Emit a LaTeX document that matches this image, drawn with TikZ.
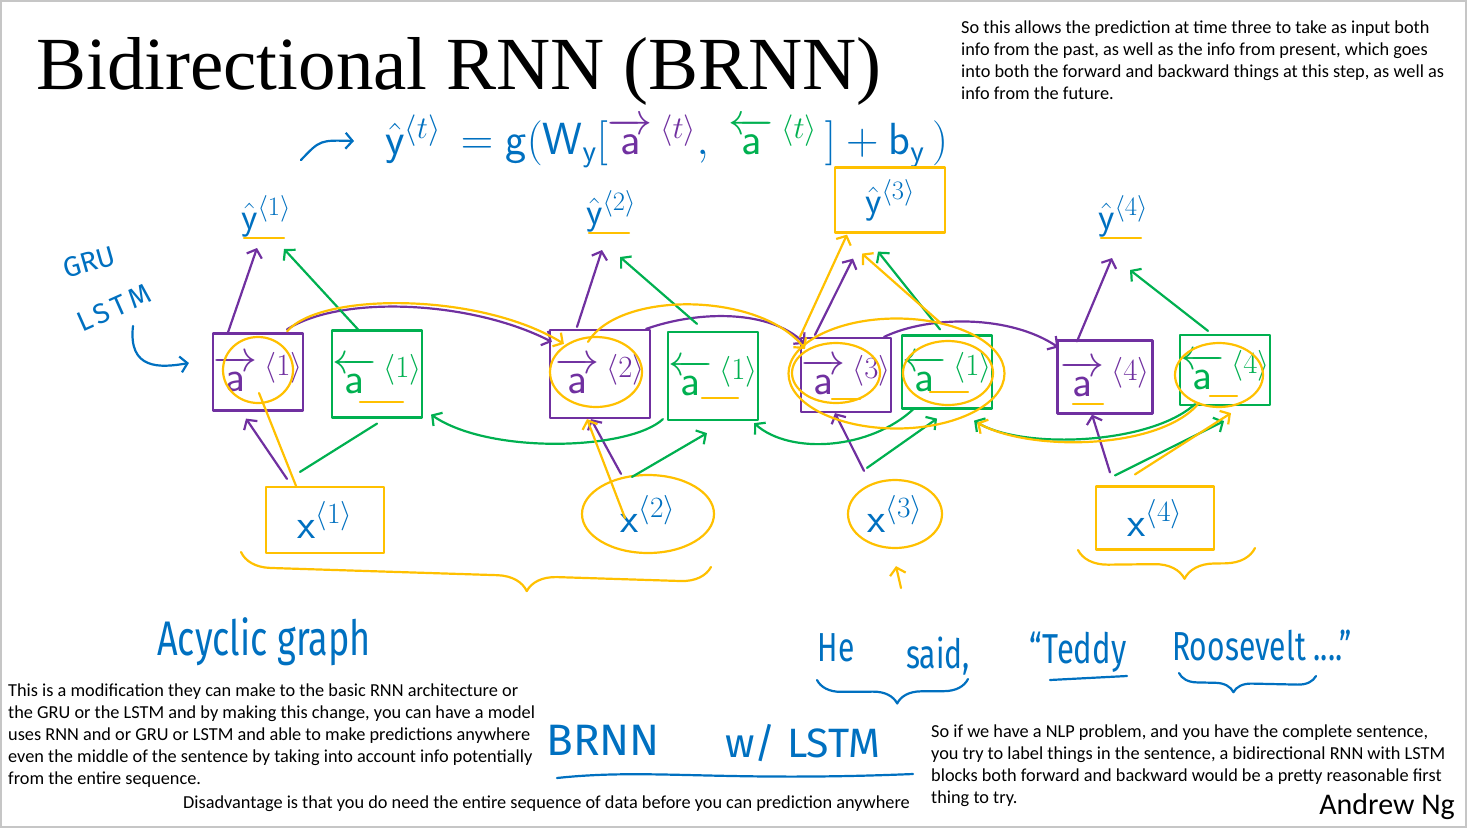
\documentclass[tikz,border=0pt]{standalone}
\usepackage{fix-cm}
\usepackage{fontspec}
\usepackage{amsmath}
\usepackage{graphicx}
\usepackage{tikz}
\usetikzlibrary{arrows.meta,positioning,shapes.geometric,calc,decorations.pathreplacing}
\newfontfamily\titlefont{Liberation Serif}
\newfontfamily\notefont{Carlito}
\newfontfamily\hand{Fira Sans}
\definecolor{inkBlue}{HTML}{0070C0}
\definecolor{fwdPurple}{HTML}{7030A0}
\definecolor{bwdGreen}{HTML}{00B050}
\definecolor{hlGold}{HTML}{FFC000}
\newcommand{\tall}[1]{\scalebox{1}[1.35]{#1}}
\newcommand{\fwda}[1]{\overrightarrow{\mathsf{a}}\,{}^{\langle #1\rangle}}
\newcommand{\bwda}[1]{\overleftarrow{\mathsf{a}}\,{}^{\langle #1\rangle}}
\tikzset{>={Straight Barb[length=7pt,width=16pt]}}
\tikzset{
  pen/.style={line width=2.2pt,line cap=round,line join=round},
  fwd/.style={pen,draw=fwdPurple},
  bwd/.style={pen,draw=bwdGreen},
  hl/.style={pen,draw=hlGold},
  ink/.style={pen,draw=inkBlue},
  fcell/.style={fwd,text=fwdPurple,inner sep=0pt,font=\fontsize{44}{44}\selectfont},
  bcell/.style={bwd,text=bwdGreen,inner sep=0pt,font=\fontsize{44}{44}\selectfont},
  yhat/.style={text=inkBlue,inner sep=1pt,anchor=south,font=\fontsize{38}{38}\selectfont},
  xin/.style={hl,text=inkBlue,inner sep=0pt,font=\fontsize{42}{42}\selectfont},
  scrawl/.style={text=inkBlue,inner sep=0pt,font=\hand\fontsize{30}{30}\selectfont},
  note/.style={anchor=north west,align=left,inner sep=0pt,font=\notefont\fontsize{18.3}{22}\selectfont},
  curly/.style={decorate,decoration={brace,mirror,amplitude=#1}}
}

\begin{document}
\begin{tikzpicture}[x=1pt,y=-1pt]
  \useasboundingbox (0,0) rectangle (1468,828);
  \draw[gray!45,line width=1.5pt] (1,1) rectangle (1466,827);

  \node[anchor=base west,inner sep=0pt,text depth=0pt,font=\titlefont\fontsize{75}{75}\selectfont] (title) at (36,89) {Bidirectional RNN (BRNN)};
  \node[note] (future) at (961,21) {So this allows the prediction at time three to take as input both\\
    info from the past, as well as the info from present, which goes\\
    into both the forward and backward things at this step, as well as\\
    info from the future.};
  \node[note] (modnote) at (8,684) {This is a modification they can make to the basic RNN architecture or\\
    the GRU or the LSTM and by making this change, you can have a model\\
    uses RNN and or GRU or LSTM and able to make predictions anywhere\\
    even the middle of the sentence by taking into account info potentially\\
    from the entire sequence.};
  \node[note] (disadv) at (183,796) {Disadvantage is that you do need the entire sequence of data before you can prediction anywhere};
  \node[note] (nlpnote) at (931,725) {So if we have a NLP problem, and you have the complete sentence,\\
    you try to label things in the sentence, a bidirectional RNN with LSTM\\
    blocks both forward and backward would be a pretty reasonable first\\
    thing to try.};
  \node[anchor=base east,inner sep=0pt,font=\notefont\fontsize{30}{30}\selectfont] (author) at (1455,814) {Andrew Ng};

  \node[anchor=west,text=inkBlue,inner sep=0pt,font=\fontsize{45}{45}\selectfont] (eq) at (385,141)
    {$\hat{\mathsf{y}}^{\langle t\rangle}\,=\mathsf{g}(\mathsf{W}_{\mathsf{y}}[\textcolor{fwdPurple}{\fwda{t}},\;\textcolor{bwdGreen}{\bwda{t}}\,]+\mathsf{b}_{\mathsf{y}}\,)$};

  \node[fcell,minimum width=89pt,minimum height=77pt] (fa1) at (258,372) {$\fwda{1}$};
  \node[bcell,minimum width=87pt,minimum height=87pt] (ba1) at (377,374) {$\bwda{1}$};
  \node[fcell,minimum width=100pt,minimum height=88pt] (fa2) at (600,374) {$\fwda{2}$};
  \node[bcell,minimum width=81pt,minimum height=88pt] (ba2) at (713,376) {$\bwda{1}$};
  \node[fcell,minimum width=85pt,minimum height=74pt] (fa3) at (846,375) {$\fwda{3}$};
  \node[bcell,minimum width=87pt,minimum height=73pt] (ba3) at (947,372) {$\bwda{1}$};
  \node[fcell,minimum width=95pt,minimum height=73pt] (fa4) at (1105,377) {$\fwda{4}$};
  \node[bcell,minimum width=84pt,minimum height=70pt] (ba4) at (1225,370) {$\bwda{4}$};

  \node[yhat] (y1) at (266,238) {$\hat{\mathsf{y}}^{\langle 1\rangle}$};
  \node[yhat] (y2) at (611,233) {$\hat{\mathsf{y}}^{\langle 2\rangle}$};
  \node[yhat,hl,anchor=center,minimum width=110pt,minimum height=65pt] (y3) at (890,200) {$\hat{\mathsf{y}}^{\langle 3\rangle}$};
  \node[yhat] (y4) at (1123,238) {$\hat{\mathsf{y}}^{\langle 4\rangle}$};

  \node[xin,minimum width=118pt,minimum height=66pt] (x1) at (325,520) {$\mathsf{x}^{\langle 1\rangle}$};
  \node[xin,ellipse,minimum width=132pt,minimum height=78pt] (x2) at (648,514) {$\mathsf{x}^{\langle 2\rangle}$};
  \node[xin,ellipse,minimum width=94pt,minimum height=68pt] (x3) at (895,514) {$\mathsf{x}^{\langle 3\rangle}$};
  \node[xin,minimum width=118pt,minimum height=63pt] (x4) at (1155,518) {$\mathsf{x}^{\langle 4\rangle}$};

  \node[scrawl,rotate=16,font=\hand\fontsize{28}{28}\selectfont] (gru) at (89,262) {GRU};
  \node[scrawl,rotate=24,font=\hand\fontsize{28}{28}\selectfont] (lstm) at (114,308) {L\kern4pt S\kern4pt T\kern4pt M};
  \node[scrawl,font=\hand\fontsize{36}{36}\selectfont] (acyclic) at (264,642) {\tall{Acyclic graph}};
  \node[scrawl] (he) at (836,648) {\tall{He}};
  \node[scrawl] (said) at (938,656) {\tall{said,}};
  \node[scrawl,font=\hand\fontsize{31}{31}\selectfont] (teddy) at (1078,652) {\tall{“Teddy}};
  \node[scrawl] (roosevelt) at (1262,645) {\tall{Roosevelt ....”}};
  \node[scrawl,font=\hand\fontsize{44}{44}\selectfont] (brnn) at (603,740) {BRNN};
  \node[scrawl,font=\hand\fontsize{41}{41}\selectfont] (wlstm) at (803,743) {w/ LSTM};

  \coordinate (ptrtail) at (301,160);
  \draw[ink,->] (ptrtail) .. controls (320,140) .. ([xshift=-31pt]eq.west);
  \coordinate (lstmtail) at (133,326);
  \draw[ink,->] (lstmtail) .. controls (128,370) and (160,368) .. ([shift={(-23,-9)}]fa1.west);

  \draw[fwd,->] ([shift={(-38,-7)}]x1.north) -- ([shift={(-12,7)}]fa1.south);
  \draw[fwd,->] ([shift={(-27,0)}]x2.north) -- ([shift={(-9,0)}]fa2.south);
  \draw[fwd,->] ([shift={(-31,-8)}]x3.north) -- ([shift={(-11,0)}]fa3.south);
  \draw[fwd,->] ([shift={(-45,-13)}]x4.north) -- ([shift={(-13,0)}]fa4.south);
  \draw[fwd,->] ([shift={(-30,0)}]fa1.north) -- ([shift={(-9,10)}]y1.south);
  \draw[fwd,->] ([shift={(-23,-2)}]fa2.north) -- ([shift={(-9,17)}]y2.south);
  \draw[fwd,->] ([shift={(-31,-2)}]fa3.north) -- ([shift={(-37,25)}]y3.south);
  \draw[fwd,->] ([shift={(-28,2)}]fa4.north) -- ([shift={(-11,20)}]y4.south);
  \draw[fwd,->] ([shift={(-17,-3)}]fa1.north east) .. controls (340,295) and (470,300) .. ([shift={(3,13)}]fa2.north west);
  \draw[fwd,->] ([shift={(-5,0)}]fa2.north east) .. controls (700,310) and (770,310) .. ([shift={(5,7)}]fa3.north west);
  \draw[fwd,->] ([shift={(-8,0)}]fa3.north east) .. controls (930,315) and (1010,315) .. ([shift={(2,8)}]fa4.north west);

  \draw[bwd] ([shift={(-25,-14)}]x1.north) -- ([shift={(0,5)}]ba1.south);
  \draw[bwd,->] ([shift={(-16,3)}]x2.north) -- ([shift={(-6,12)}]ba2.south);
  \draw[bwd,->] ([shift={(-28,-11)}]x3.north) -- ([shift={(-10,9)}]ba3.south);
  \draw[bwd,->] ([shift={(-40,-10)}]x4.north) -- ([shift={(-1,15)}]ba4.south);
  \draw[bwd,->] ([shift={(-19,0)}]ba1.north) -- ([shift={(18,11)}]y1.south);
  \draw[bwd,->] ([shift={(-16,-7)}]ba2.north) -- ([shift={(9,24)}]y2.south);
  \draw[bwd,->] ([shift={(-7,-5)}]ba3.north) -- ([shift={(-12,18)}]y3.south);
  \draw[bwd,->] ([shift={(-17,-3)}]ba4.north) -- ([shift={(7,32)}]y4.south);
  \draw[bwd,->] ([shift={(-4,-2)}]ba2.south west) .. controls (630,450) and (490,455) .. ([shift={(8,-4)}]ba1.south east);
  \draw[bwd,->] ([shift={(13,-1)}]ba3.south west) .. controls (870,450) and (790,455) .. ([shift={(-5,2)}]ba2.south east);
  \draw[bwd,->] ([shift={(16,-2)}]ba4.south west) .. controls (1150,445) and (1020,450) .. ([shift={(-19,11)}]ba3.south east);

  \draw[hl] ([shift={(0,-2)}]fa1.center) ellipse [x radius=35, y radius=33];
  \draw[hl] ([shift={(-4,-2)}]fa2.center) ellipse [x radius=46, y radius=35];
  \draw[hl] ([shift={(-10,-2)}]fa3.center) ellipse [x radius=44, y radius=30];
  \draw[hl] ([shift={(1,1)}]ba3.center) ellipse [x radius=45, y radius=32];
  \draw[hl] ($(fa3.center)!0.5!(ba3.center)$) ellipse [x radius=108, y radius=55];
  \draw[hl] ([shift={(-6,5)}]ba4.center) ellipse [x radius=44, y radius=32];
  \draw[hl] ([shift={(-17,-17)}]ba1.south) -- ++(43,0);
  \draw[hl] ([shift={(-11,-23)}]ba2.south) -- ++(36,0);
  \draw[hl] ([shift={(-17,-18)}]ba3.south) -- ++(38,0);
  \draw[hl] ([shift={(-14,-14)}]fa3.south) -- ++(28,0);
  \draw[hl] ([shift={(-32,-11)}]fa4.south) -- ++(30,0);
  \draw[hl] ([shift={(-15,-10)}]ba4.south) -- ++(27,0);
  \foreach \n in {1,2,4}
    \draw[hl] ([xshift=-22pt]y\n.south) -- ([xshift=18pt]y\n.south);

  \draw[hl] ([shift={(-29,0)}]x1.north) -- ([shift={(1,21)}]fa1.center);
  \draw[hl,->] ([shift={(-23,4)}]x2.center) -- ([shift={(-13,0)}]fa2.south);
  \draw[hl,->] ([shift={(-20,-11)}]x4.north) -- ([shift={(6,7)}]ba4.south);
  \draw[hl,->] ([shift={(-17,-1)}]fa1.north east) .. controls (320,292) and (480,292) .. ([shift={(15,15)}]fa2.north west);
  \draw[hl,->] ([shift={(-12,13)}]fa2.north) .. controls (620,290) and (760,292) .. ([shift={(5,12)}]fa3.north west);
  \draw[hl,->] (fa3.north west) -- ([shift={(-43,1)}]y3.south);
  \draw[hl,->] ([shift={(-7,-12)}]ba3.north) -- ([shift={(-28,20)}]y3.south);
  \draw[hl,->] ([shift={(20,-3)}]ba4.south west) .. controls (1160,450) and (1030,452) .. ([shift={(-16,13)}]ba3.south east);
  \coordinate (lookup) at (901,588);
  \draw[hl,->] (lookup) -- ([shift={(1,17)}]x3.south);

  \draw[hl,curly={30pt},decoration={aspect=0.61}] (241,552) -- (711,567);
  \draw[hl,curly={30pt},decoration={aspect=0.6}] (1078,550) -- (1255,548);
  \draw[ink,curly={24pt},decoration={aspect=0.53}] (817,680) -- (968,679);
  \draw[ink,curly={18pt},decoration={aspect=0.4}] (1179,673) -- (1316,676);
  \draw[ink] (1050,680) -- (1127,676);
  \draw[ink] (557,778) .. controls (650,768) and (720,782) .. (913,774);
\end{tikzpicture}
\end{document}
